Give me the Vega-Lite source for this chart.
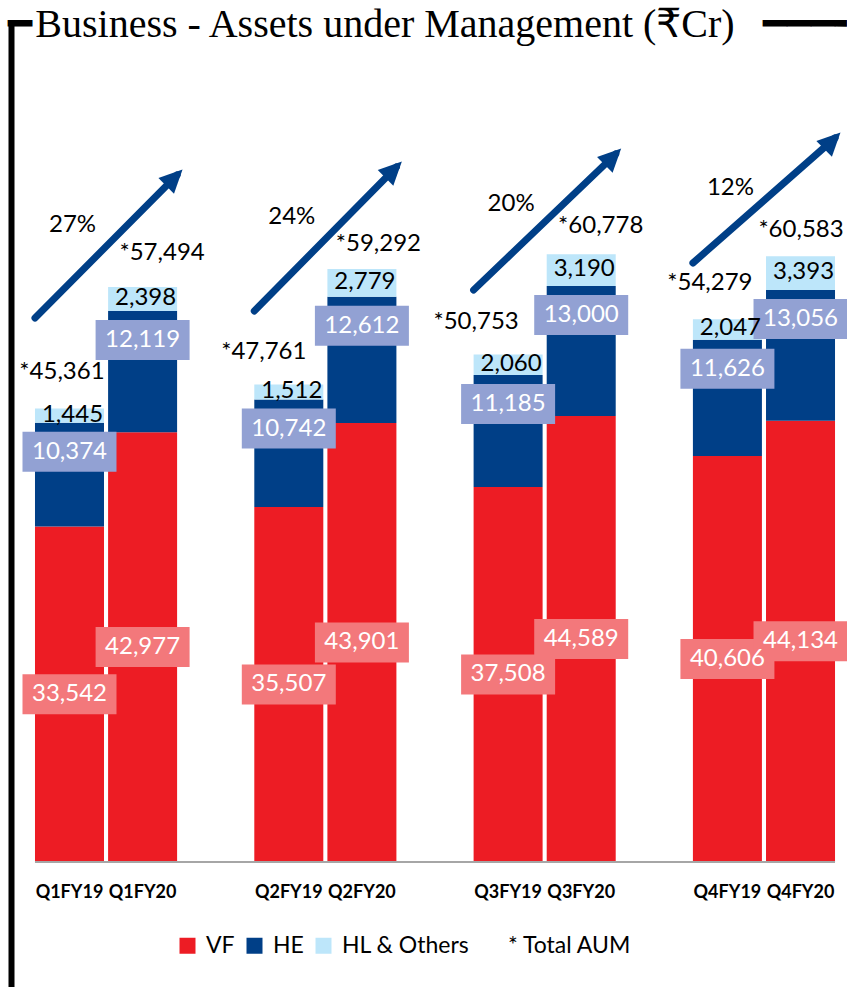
{
  "$schema": "https://vega.github.io/schema/vega-lite/v6.json",
  "width": 836,
  "height": 966,
  "autosize": {"type": "none"},
  "padding": {"left": 11, "top": 21, "right": 0, "bottom": 0},
  "background": "white",
  "config": {"view": {"stroke": null}, "text": {"font": "Lato"}},
  "title": {
    "text": "━\u200aBusiness - Assets under Management (₹Cr)\u2002\u2009━━━╸",
    "anchor": "start",
    "frame": "group",
    "orient": "top",
    "font": "Liberation Serif",
    "fontSize": 40,
    "fontWeight": "normal",
    "color": "black",
    "baseline": "alphabetic",
    "offset": 0,
    "dx": -3,
    "dy": 56
  },
  "datasets": {
    "aum": [
      {"period": "Q1FY19", "segment": "VF", "rank": 1, "value": 33542},
      {"period": "Q1FY19", "segment": "HE", "rank": 2, "value": 10374},
      {"period": "Q1FY19", "segment": "HL & Others", "rank": 3, "value": 1445},
      {"period": "Q1FY20", "segment": "VF", "rank": 1, "value": 42977},
      {"period": "Q1FY20", "segment": "HE", "rank": 2, "value": 12119},
      {"period": "Q1FY20", "segment": "HL & Others", "rank": 3, "value": 2398},
      {"period": "Q2FY19", "segment": "VF", "rank": 1, "value": 35507},
      {"period": "Q2FY19", "segment": "HE", "rank": 2, "value": 10742},
      {"period": "Q2FY19", "segment": "HL & Others", "rank": 3, "value": 1512},
      {"period": "Q2FY20", "segment": "VF", "rank": 1, "value": 43901},
      {"period": "Q2FY20", "segment": "HE", "rank": 2, "value": 12612},
      {"period": "Q2FY20", "segment": "HL & Others", "rank": 3, "value": 2779},
      {"period": "Q3FY19", "segment": "VF", "rank": 1, "value": 37508},
      {"period": "Q3FY19", "segment": "HE", "rank": 2, "value": 11185},
      {"period": "Q3FY19", "segment": "HL & Others", "rank": 3, "value": 2060},
      {"period": "Q3FY20", "segment": "VF", "rank": 1, "value": 44589},
      {"period": "Q3FY20", "segment": "HE", "rank": 2, "value": 13000},
      {"period": "Q3FY20", "segment": "HL & Others", "rank": 3, "value": 3190},
      {"period": "Q4FY19", "segment": "VF", "rank": 1, "value": 40606},
      {"period": "Q4FY19", "segment": "HE", "rank": 2, "value": 11626},
      {"period": "Q4FY19", "segment": "HL & Others", "rank": 3, "value": 2047},
      {"period": "Q4FY20", "segment": "VF", "rank": 1, "value": 44134},
      {"period": "Q4FY20", "segment": "HE", "rank": 2, "value": 13056},
      {"period": "Q4FY20", "segment": "HL & Others", "rank": 3, "value": 3393}
    ],
    "periods": [
      {"period": "Q1FY19", "total": 45361},
      {"period": "Q1FY20", "total": 57494},
      {"period": "Q2FY19", "total": 47761},
      {"period": "Q2FY20", "total": 59292},
      {"period": "Q3FY19", "total": 50753},
      {"period": "Q3FY20", "total": 60778},
      {"period": "Q4FY19", "total": 54279},
      {"period": "Q4FY20", "total": 60583}
    ],
    "arrows": [
      {"from": "Q1FY19", "to": "Q1FY20", "start": 54400, "end": 68700, "growth": "27%"},
      {"from": "Q2FY19", "to": "Q2FY20", "start": 55100, "end": 69500, "growth": "24%"},
      {"from": "Q3FY19", "to": "Q3FY20", "start": 57200, "end": 70800, "growth": "20%"},
      {"from": "Q4FY19", "to": "Q4FY20", "start": 59900, "end": 72400, "growth": "12%"}
    ],
    "axisline": [{"from": "Q1FY19", "to": "Q4FY20"}]
  },
  "layer": [
    {
      "data": {"name": "aum"},
      "transform": [
        {"stack": "value", "groupby": ["period"], "sort": [{"field": "rank", "order": "ascending"}], "as": ["v0", "v1"]},
        {"calculate": "(datum.v0 + datum.v1) / 2", "as": "vmid"}
      ],
      "layer": [
        {
          "mark": {"type": "bar"},
          "encoding": {
            "x": {
              "field": "period",
              "type": "nominal",
              "scale": {
                "domain": ["Q1FY19", "Q1FY20", "s1", "Q2FY19", "Q2FY20", "s2", "Q3FY19", "Q3FY20", "s3", "Q4FY19", "Q4FY20"],
                "paddingInner": 0.056,
                "paddingOuter": 0.246,
                "align": 0.667
              },
              "axis": null
            },
            "y": {
              "field": "v1",
              "type": "quantitative",
              "scale": {"domain": [-12500, 84100], "nice": false, "zero": false},
              "axis": {"orient": "left", "domain": true, "domainColor": "black", "domainWidth": 6, "ticks": false, "labels": false, "grid": false, "title": null}
            },
            "y2": {"field": "v0"},
            "color": {
              "field": "segment",
              "type": "nominal",
              "scale": {"domain": ["VF", "HE", "HL & Others", "* Total AUM"], "range": ["#ED1C24", "#003F87", "#BDE6FA", "transparent"]},
              "legend": {
                "orient": "none",
                "legendX": 165,
                "legendY": 913,
                "direction": "horizontal",
                "title": null,
                "symbolType": "square",
                "symbolSize": 256,
                "symbolStrokeWidth": 0,
                "symbolOpacity": 1,
                "labelFont": "Lato",
                "labelFontSize": 23,
                "labelColor": "black",
                "labelOffset": 7,
                "columnPadding": 8,
                "padding": 0,
                "labelLimit": 0,
                "labelExpr": "datum.label === '* Total AUM' ? '\u2003* Total AUM' : datum.label"
              }
            }
          }
        },
        {
          "transform": [{"filter": "datum.segment === 'VF'"}],
          "mark": {"type": "point", "shape": "M-1,-0.4255H1V0.4255H-1Z", "size": 8836, "filled": true, "opacity": 1, "color": "#F3787B", "strokeWidth": 0},
          "encoding": {"x": {"field": "period", "type": "nominal"}, "y": {"field": "vmid", "type": "quantitative"}}
        },
        {
          "transform": [{"filter": "datum.segment === 'VF'"}],
          "mark": {"type": "text", "font": "Lato", "fontSize": 24, "color": "white", "baseline": "middle"},
          "encoding": {"x": {"field": "period", "type": "nominal"}, "y": {"field": "vmid", "type": "quantitative"}, "text": {"field": "value", "type": "quantitative", "format": ","}}
        },
        {
          "transform": [{"filter": "datum.segment === 'HE'"}],
          "mark": {"type": "point", "shape": "M-1,0.1915H1V1.0426H-1Z", "size": 8836, "filled": true, "opacity": 1, "color": "#92A1D3", "strokeWidth": 0},
          "encoding": {"x": {"field": "period", "type": "nominal"}, "y": {"field": "v1", "type": "quantitative"}}
        },
        {
          "transform": [{"filter": "datum.segment === 'HE'"}],
          "mark": {"type": "text", "font": "Lato", "fontSize": 24, "color": "white", "baseline": "middle", "dy": 29},
          "encoding": {"x": {"field": "period", "type": "nominal"}, "y": {"field": "v1", "type": "quantitative"}, "text": {"field": "value", "type": "quantitative", "format": ","}}
        },
        {
          "transform": [{"filter": "datum.segment === 'HL & Others'"}],
          "mark": {"type": "text", "font": "Lato", "fontSize": 24, "color": "black", "baseline": "middle", "dx": 3, "dy": -1},
          "encoding": {"x": {"field": "period", "type": "nominal"}, "y": {"field": "vmid", "type": "quantitative"}, "text": {"field": "value", "type": "quantitative", "format": ","}}
        }
      ]
    },
    {
      "data": {"name": "axisline"},
      "mark": {"type": "rule", "color": "#A6A6A6", "strokeWidth": 2},
      "encoding": {
        "x": {"field": "from", "type": "nominal", "bandPosition": 0},
        "x2": {"field": "to", "bandPosition": 1},
        "y": {"datum": 0, "type": "quantitative"}
      }
    },
    {
      "data": {"name": "periods"},
      "mark": {"type": "text", "font": "Lato", "fontWeight": "bold", "fontSize": 18, "baseline": "middle", "dy": 31, "color": "black"},
      "encoding": {
        "x": {"field": "period", "type": "nominal"},
        "y": {"datum": 0, "type": "quantitative"},
        "text": {"field": "period", "type": "nominal"}
      }
    },
    {
      "data": {"name": "periods"},
      "transform": [{"calculate": "'*' + format(datum.total, ',')", "as": "label"}],
      "encoding": {
        "x": {"field": "period", "type": "nominal"},
        "y": {"field": "total", "type": "quantitative"},
        "text": {"field": "label", "type": "nominal"}
      },
      "layer": [
        {"transform": [{"filter": "datum.period === 'Q1FY19'"}], "mark": {"type": "text", "font": "Lato", "fontSize": 24, "color": "black", "baseline": "middle", "dx": -7.5, "dy": -36}},
        {"transform": [{"filter": "datum.period === 'Q1FY20'"}], "mark": {"type": "text", "font": "Lato", "fontSize": 24, "color": "black", "baseline": "middle", "dx": 19.5, "dy": -34}},
        {"transform": [{"filter": "datum.period === 'Q2FY19'"}], "mark": {"type": "text", "font": "Lato", "fontSize": 24, "color": "black", "baseline": "middle", "dx": -25, "dy": -32}},
        {"transform": [{"filter": "datum.period === 'Q2FY20'"}], "mark": {"type": "text", "font": "Lato", "fontSize": 24, "color": "black", "baseline": "middle", "dx": 16.5, "dy": -25}},
        {"transform": [{"filter": "datum.period === 'Q3FY19'"}], "mark": {"type": "text", "font": "Lato", "fontSize": 24, "color": "black", "baseline": "middle", "dx": -32, "dy": -32.5}},
        {"transform": [{"filter": "datum.period === 'Q3FY20'"}], "mark": {"type": "text", "font": "Lato", "fontSize": 24, "color": "black", "baseline": "middle", "dx": 19.5, "dy": -28}},
        {"transform": [{"filter": "datum.period === 'Q4FY19'"}], "mark": {"type": "text", "font": "Lato", "fontSize": 24, "color": "black", "baseline": "middle", "dx": -17.5, "dy": -36}},
        {"transform": [{"filter": "datum.period === 'Q4FY20'"}], "mark": {"type": "text", "font": "Lato", "fontSize": 24, "color": "black", "baseline": "middle", "dx": 0.5, "dy": -26}}
      ]
    },
    {
      "data": {"name": "arrows"},
      "layer": [
        {
          "mark": {"type": "rule", "color": "#003F87", "strokeWidth": 7, "strokeCap": "round"},
          "encoding": {
            "x": {"field": "from", "type": "nominal", "bandPosition": 0},
            "x2": {"field": "to", "bandPosition": 1},
            "y": {"field": "start", "type": "quantitative"},
            "y2": {"field": "end"}
          }
        },
        {
          "mark": {"type": "point", "shape": "M0,-0.35L0.5,0.7L-0.5,0.7Z", "size": 1936, "angle": 45, "filled": true, "opacity": 1, "color": "#003F87", "strokeWidth": 0},
          "encoding": {
            "x": {"field": "to", "type": "nominal", "bandPosition": 1},
            "y": {"field": "end", "type": "quantitative"}
          }
        },
        {
          "mark": {"type": "text", "font": "Lato", "fontSize": 24, "color": "black", "baseline": "middle", "dx": 3, "dy": 50},
          "encoding": {
            "x": {"field": "from", "type": "nominal"},
            "y": {"field": "end", "type": "quantitative"},
            "text": {"field": "growth", "type": "nominal"}
          }
        }
      ]
    }
  ]
}
